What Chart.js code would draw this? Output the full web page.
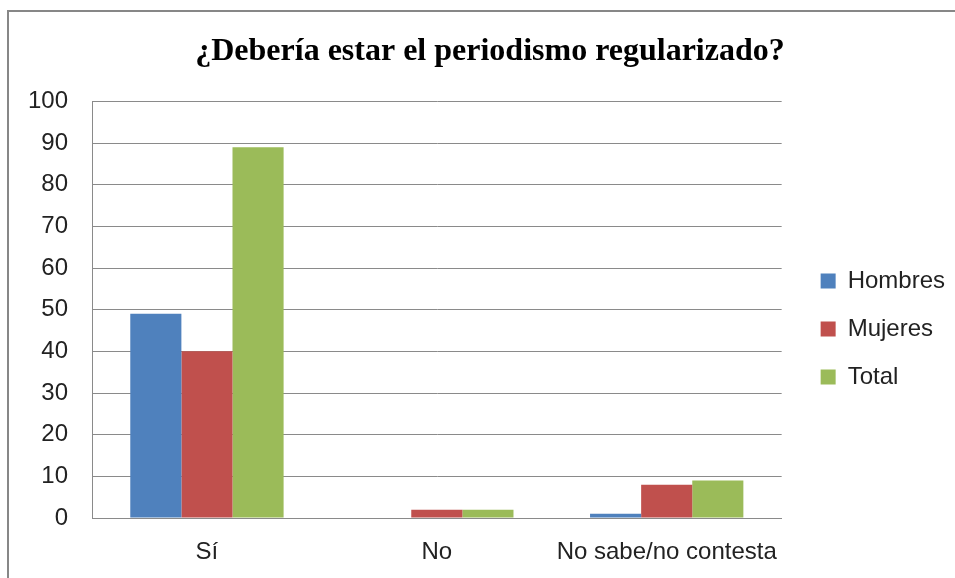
<!DOCTYPE html>
<html>
<head>
<meta charset="utf-8">
<script src="https://cdn.jsdelivr.net/npm/chart.js@4"></script>
<style>
  html, body { margin: 0; padding: 0; background: #fff; }
  #wrap { position: relative; width: 955px; height: 578px; overflow: hidden; }
  #frame { position: absolute; left: 7px; top: 10px; width: 1000px; height: 600px;
           border-left: 2px solid #878787; border-top: 2px solid #878787; }
  canvas { position: absolute; left: 0; top: 0; }
</style>
</head>
<body>
<div id="wrap">
  <div id="frame"></div>
  <canvas id="chart" width="955" height="578"></canvas>
</div>
<script>
// ===== datos =====
const categorias = ['Sí', 'No', 'No sabe/no contesta'];
const hombres = [49, 0, 1];
const mujeres = [40, 2, 8];
const total = [89, 2, 9];
const yTicks = [0, 10, 20, 30, 40, 50, 60, 70, 80, 90, 100];

// ajuste fino: título centrado sobre el marco, leyenda a la derecha y centrada
const ajustes = {
  id: 'ajustes',
  afterLayout(chart) {
    const t = chart.titleBlock, l = chart.legend;
    if (t) { t.left += 7.5; t.right += 7.5; }
    if (l) { l.left += 15; l.right += 15; l.top += 40; l.bottom += 40; }
  }
};

new Chart(document.getElementById('chart').getContext('2d'), {
  type: 'bar',
  data: {
    labels: categorias,
    datasets: [
      { label: 'Hombres', data: hombres, backgroundColor: '#4F81BD' },
      { label: 'Mujeres', data: mujeres, backgroundColor: '#C0504D' },
      { label: 'Total', data: total, backgroundColor: '#9BBB59' }
    ]
  },
  options: {
    responsive: false,
    animation: false,
    datasets: { bar: { categoryPercentage: 0.667, barPercentage: 1.0, borderWidth: 0 } },
    layout: { padding: { left: 25, right: 15, top: 0, bottom: 0 } },
    plugins: {
      title: {
        display: true,
        text: '¿Debería estar el periodismo regularizado?',
        color: '#000',
        font: { family: '"Liberation Serif", "Times New Roman", serif', size: 32, weight: 'bold' },
        padding: { top: 33, bottom: 30 }
      },
      legend: {
        position: 'right',
        labels: {
          color: '#222',
          boxWidth: 15, boxHeight: 15,
          padding: 24,
          font: { family: '"Liberation Sans", Arial, sans-serif', size: 24 }
        }
      },
      tooltip: { enabled: false }
    },
    scales: {
      x: {
        afterFit(scale) { scale.height = 60; },
        grid: { display: false, drawTicks: false },
        border: { color: '#8a8a8a', width: 1 },
        ticks: { color: '#222', padding: 20, font: { family: '"Liberation Sans", Arial, sans-serif', size: 24 } }
      },
      y: {
        min: 0, max: 100,
        afterBuildTicks(scale) { scale.ticks = yTicks.map(v => ({ value: v })); },
        afterFit(scale) { scale.width = 67; },
        grid: { color: '#8a8a8a', lineWidth: 1, drawTicks: false },
        border: { color: '#8a8a8a', width: 1 },
        ticks: { color: '#222', padding: 24, font: { family: '"Liberation Sans", Arial, sans-serif', size: 24 } }
      }
    }
  },
  plugins: [ajustes]
});
</script>
</body>
</html>
